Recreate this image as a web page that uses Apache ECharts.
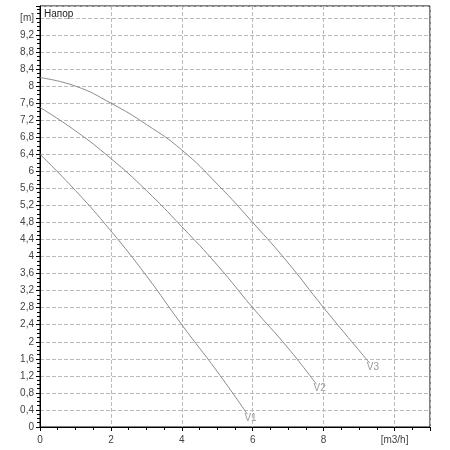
<!DOCTYPE html>
<html><head><meta charset="utf-8">
<script src="https://cdn.jsdelivr.net/npm/echarts@6/dist/echarts.min.js"></script>
<style>body{margin:0;background:#fff}#c{width:450px;height:450px}</style>
</head><body><div id="c"></div>
<script>
var v1 = [[0, 6.4], [1, 5.55], [2, 4.6], [3, 3.55], [4, 2.4], [5, 1.3], [5.85, 0.3]];
var v2 = [[0, 7.5], [1, 6.95], [2, 6.3], [3, 5.55], [4, 4.7], [5, 3.8], [6, 2.8], [7, 1.85], [7.8, 1.0]];
var v3 = [[0, 8.2], [1, 8.0], [2, 7.6], [3, 7.1], [4, 6.5], [5, 5.7], [6, 4.8], [7, 3.85], [8, 2.8], [9.3, 1.5]];
var seriesNames = ['V1', 'V2', 'V3'];

var h = echarts.init(document.getElementById('c'));
function mk(name, data) {
    return {
        name: name, type: 'line', smooth: true, symbol: 'none', data: data,
        lineStyle: {color: '#8a8a8a', width: 1},
        endLabel: {show: true, formatter: name, color: '#999', fontSize: 10, distance: 1, offset: [-4, 4]}
    };
}
var option = {
    animation: false,
    grid: {left: 40, right: 20, top: 6, bottom: 23},
    xAxis: {
        type: 'value', min: 0, max: 11, interval: 2,
        axisLine: {lineStyle: {color: '#000'}},
        axisTick: {length: 4, lineStyle: {color: '#000'}},
        minorTick: {show: true, splitNumber: 4, length: 3, lineStyle: {color: '#000'}},
        axisLabel: {color: '#444', fontSize: 10, fontFamily: 'Arial', showMaxLabel: false,
            formatter: function (v) { return v === 10 ? '[m3/h]' : (v > 10 ? '' : v); }},
        splitLine: {show: true, lineStyle: {type: 'dashed', color: '#bbb'}}
    },
    yAxis: {
        type: 'value', min: 0, max: 9.88, interval: 0.4,
        axisLine: {show: true, lineStyle: {color: '#000'}},
        axisTick: {length: 4, lineStyle: {color: '#000'}},
        minorTick: {show: true, splitNumber: 4, length: 3, lineStyle: {color: '#000'}},
        axisLabel: {color: '#444', fontSize: 10, fontFamily: 'Arial', margin: 6, showMaxLabel: false,
            formatter: function (v) {
                var r = Math.round(v * 10) / 10;
                if (Math.abs(r - 9.6) < 0.01) return '[m]';
                return String(r).replace('.', ',');
            }},
        splitLine: {show: true, lineStyle: {type: 'dashed', color: '#bbb'}}
    },
    graphic: [
        {type: 'rect', shape: {x: 40, y: 6, width: 390, height: 421}, style: {fill: 'none', stroke: '#000', lineWidth: 1}, silent: true},
        {type: 'text', left: 44, top: 9, style: {text: 'Напор', fontSize: 10, fill: '#222', fontFamily: 'Arial'}}
    ],
    series: [mk(seriesNames[0], v1), mk(seriesNames[1], v2), mk(seriesNames[2], v3)]
};
h.setOption(option);
</script></body></html>
